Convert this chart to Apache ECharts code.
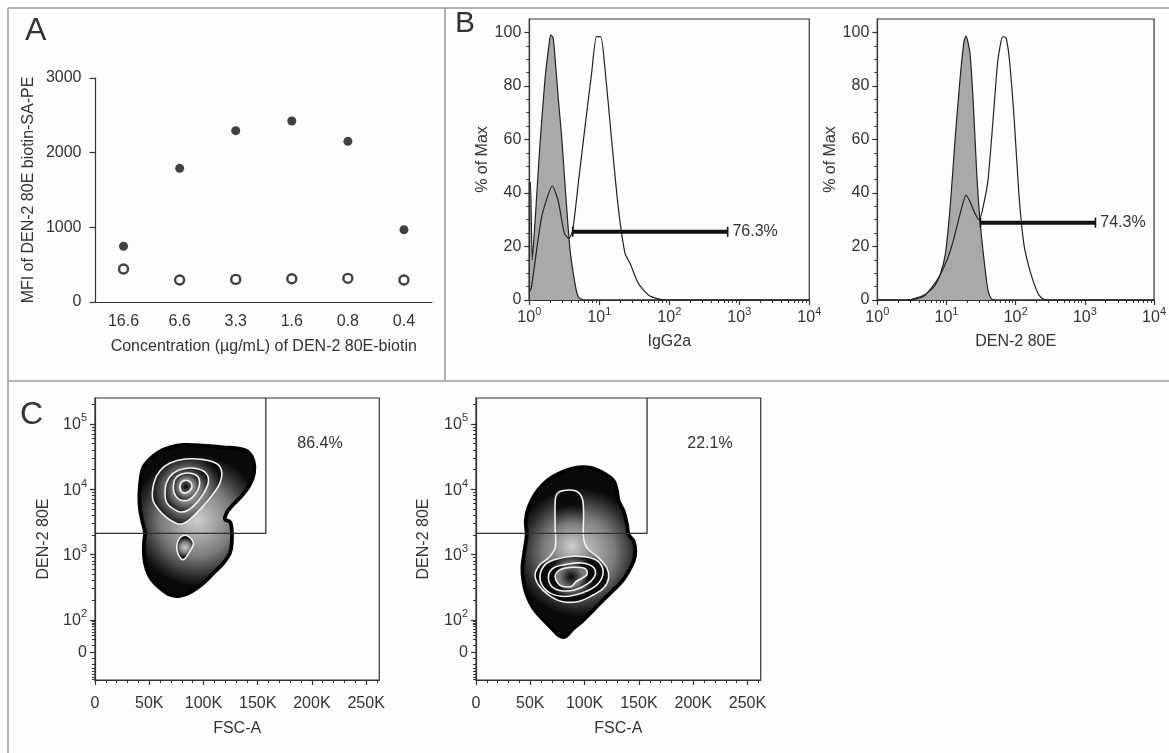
<!DOCTYPE html>
<html>
<head>
<meta charset="utf-8">
<script src="https://cdn.jsdelivr.net/npm/echarts@6/dist/echarts.min.js"></script>
<style>
  html, body { margin: 0; padding: 0; background: #fdfdfd; }
  #chart { width: 1169px; height: 753px; }
</style>
</head>
<body>
<div id="chart"></div>
<script>
// ---- panel A : MFI vs concentration
const concLabels = ['16.6', '6.6', '3.3', '1.6', '0.8', '0.4']
const mfiBiotin = [746, 1790, 2295, 2424, 2152, 968]
const mfiControl = [442, 295, 303, 312, 317, 295]

// ---- panel B : histograms [intensity, % of max]
const igGrey = [[1.0, 0], [1.0, 44], [1.04, 44], [1.10, 15], [1.20, 28], [1.41, 57], [1.67, 82], [1.95, 97], [2.04, 99], [2.19, 98], [2.34, 90], [2.6, 75], [2.9, 61], [3.16, 47], [3.41, 35], [3.81, 19], [4.5, 6], [5.0, 1.2], [5.9, 0], [10000, 0]]
const igOpen = [[1.0, 3], [1.07, 4.5], [1.5, 31], [2.14, 42.6], [2.59, 37], [3.16, 25], [3.69, 23], [4.17, 26], [5.01, 43.6], [6.25, 64.7], [7.76, 84.7], [9.12, 98.4], [10.5, 98.4], [12.0, 87], [15.0, 59.8], [18.6, 34.9], [23.3, 17.4], [27.5, 13.7], [36.1, 6.2], [50.1, 1.9], [69.2, 0.4], [89, 0], [10000, 0]]
const denGrey = [[1, 0], [2.75, 0], [4.76, 1.9], [6.61, 5], [8.22, 10], [9.68, 17.5], [11.4, 36], [13.4, 61], [15.8, 83.4], [18.0, 97], [19.2, 98.6], [21.9, 92], [24.4, 73.5], [27.2, 48.6], [30.4, 30], [35.8, 12.5], [39.8, 3.7], [44.5, 0.4], [50, 0], [10000, 0]]
const denOpen = [[1, 0], [3.0, 0], [4.76, 1.5], [7.35, 7.5], [10.2, 15], [12.6, 22.4], [15.8, 32.4], [19.2, 39.2], [21.9, 36.7], [25.7, 32.4], [29.7, 29.9], [33.9, 34.9], [39.8, 44.8], [47.0, 67], [55.3, 89.7], [65.2, 98.4], [72.4, 98], [81.3, 89.7], [95.5, 67], [112, 38.6], [132, 20.5], [155, 12.5], [184, 6.2], [216, 1.9], [255, 0.3], [316, 0], [10000, 0]]
const igGate = [4.17, 682], igGateLevel = 25.5, igGatePct = '76.3%'
const denGate = [31, 1423], denGateLevel = 28.9, denGatePct = '74.3%'

// ---- panel C : zebra contours [FSC-A (K), DEN-2 80E display decade]
const c1Contours = [
  [[44.6, 4.333], [50.7, 4.461], [58.4, 4.564], [69.2, 4.640], [81.5, 4.676], [99.9, 4.666], [118.4, 4.640], [133.8, 4.615], [141.4, 4.564], [146.1, 4.435], [146.7, 4.256], [143.0, 4.076], [135.3, 3.897], [126.1, 3.743], [121.5, 3.640], [119.9, 3.538], [124.5, 3.497], [126.1, 3.384], [126.1, 3.179], [124.5, 3.025], [118.4, 2.871], [109.2, 2.717], [99.9, 2.564], [89.2, 2.435], [78.4, 2.369], [69.2, 2.384], [60.0, 2.487], [52.3, 2.615], [47.7, 2.769], [45.2, 2.974], [45.2, 3.179], [46.1, 3.333], [44.0, 3.487], [41.5, 3.692], [40.9, 3.897], [42.1, 4.153]],
  [[75.3, 3.128], [78.4, 3.256], [84.6, 3.292], [90.7, 3.179], [87.6, 3.051], [81.5, 2.923], [76.9, 3.0]],
  [[53.2, 3.846], [54.4, 4.102], [60.0, 4.282], [69.2, 4.400], [83.0, 4.461], [99.9, 4.451], [112.9, 4.384], [116.9, 4.256], [114.7, 4.076], [107.6, 3.897], [98.4, 3.717], [89.2, 3.564], [81.5, 3.476], [75.3, 3.476], [66.1, 3.564], [58.4, 3.692]],
  [[64.6, 3.923], [66.1, 4.102], [72.3, 4.246], [83.0, 4.317], [95.3, 4.307], [103.0, 4.230], [104.5, 4.102], [100.6, 3.948], [93.8, 3.794], [86.1, 3.682], [78.4, 3.651], [70.7, 3.717], [66.1, 3.794]],
  [[72.3, 4.0], [73.8, 4.153], [80.0, 4.230], [89.2, 4.240], [95.3, 4.179], [96.2, 4.051], [92.3, 3.923], [86.1, 3.835], [79.0, 3.835], [74.4, 3.897]],
  [[78.4, 4.051], [81.5, 4.128], [87.6, 4.112], [89.2, 4.025], [84.6, 3.948], [80.0, 3.958]]
]
const c2Contours = [
  [[69.8, 4.179], [82.1, 4.282], [94.4, 4.333], [106.7, 4.323], [119.0, 4.230], [126.7, 4.128], [129.8, 3.974], [131.3, 3.820], [135.9, 3.666], [139.0, 3.461], [140.5, 3.307], [145.1, 3.205], [146.7, 3.051], [145.1, 2.897], [140.5, 2.743], [134.4, 2.589], [125.2, 2.435], [115.9, 2.282], [106.7, 2.128], [97.5, 1.974], [89.8, 1.871], [82.1, 1.743], [75.9, 1.769], [69.8, 1.871], [60.6, 2.025], [52.9, 2.179], [46.7, 2.384], [43.7, 2.589], [42.7, 2.794], [44.6, 3.051], [46.7, 3.307], [45.8, 3.512], [48.3, 3.717], [54.4, 3.923], [62.1, 4.076]],
  [[72.9, 3.820], [74.4, 3.923], [79.0, 3.974], [91.3, 3.974], [97.5, 3.871], [99.0, 3.666], [99.0, 3.256], [102.1, 3.102], [112.9, 2.948], [120.5, 2.794], [122.1, 2.640], [117.5, 2.487], [108.2, 2.384], [94.4, 2.282], [79.0, 2.282], [66.7, 2.384], [57.5, 2.538], [54.4, 2.692], [59.0, 2.846], [66.7, 2.948], [72.9, 3.102], [72.9, 3.410]],
  [[59.0, 2.692], [63.7, 2.846], [72.9, 2.923], [91.3, 2.974], [109.8, 2.923], [116.5, 2.794], [115.9, 2.640], [109.8, 2.512], [97.5, 2.410], [82.1, 2.358], [68.3, 2.410], [60.6, 2.538]],
  [[66.7, 2.666], [71.3, 2.794], [82.1, 2.846], [97.5, 2.871], [108.2, 2.805], [109.8, 2.692], [103.6, 2.564], [91.3, 2.461], [79.0, 2.446], [69.8, 2.512]],
  [[72.9, 2.666], [77.5, 2.769], [89.8, 2.805], [100.6, 2.784], [102.1, 2.692], [92.3, 2.589], [87.7, 2.512], [77.5, 2.528]]
]
const gateFscK = 157.5, gateDen = 2100
const c1Pct = '86.4%', c2Pct = '22.1%'
const fscRange = [0, 262.144]
const denRange = [1.081, 5.394]   // display decades, bottom..top
const zeroDecade = 1.512          // where "0" sits on the biex scale

const fam = "'Liberation Sans', Arial, sans-serif"
const txt = '#333'
const axisCol = '#333'

const sup = n => '{b|10}{s|' + n + '}'
const supRich = {
  b: { fontSize: 16, fontFamily: fam, color: txt, lineHeight: 18, verticalAlign: 'bottom' },
  s: { fontSize: 11, fontFamily: fam, color: txt, lineHeight: 11, verticalAlign: 'bottom', padding: [0, 0, 9, 0] }
}
const nameStyle = { fontFamily: fam, fontSize: 16, color: txt }
const labelStyle = { fontFamily: fam, fontSize: 16, color: txt }

// minor tick positions
const logMinor = []
for (let d = 0; d < 4; d++) for (let k = 2; k <= 9; k++) logMinor.push(Math.log10(k * Math.pow(10, d)))
const pctMinor = []
for (let v = 5; v < 105; v += 5) if (v % 20) pctMinor.push(v)
const fscMinor = []
for (let v = 10; v < 262; v += 10) if (v % 50) fscMinor.push(v)
const biexLin = v => zeroDecade + (2 - zeroDecade) * Math.asinh(v / 20) / Math.asinh(5)
const denMinor = []
for (let v = -70; v <= 90; v += 10) if (v) denMinor.push(biexLin(v))
for (let d = 2; d < 6; d++) for (let k = 2; k <= 9; k++) {
  const t = Math.log10(k * Math.pow(10, d))
  if (t < denRange[1]) denMinor.push(t)
}

const minorAxis = (dim, grid, range, vals) => ({
  type: 'value', gridIndex: grid, position: dim === 'x' ? 'bottom' : 'left',
  min: range[0], max: range[1],
  axisLine: { show: false }, axisLabel: { show: false }, splitLine: { show: false },
  axisTick: { show: true, length: 3, customValues: vals, lineStyle: { color: axisCol } }
})

const logX = (grid, name) => ({
  type: 'value', gridIndex: grid, position: 'bottom', min: 0, max: 4, interval: 1,
  axisLine: { show: true, lineStyle: { color: axisCol, width: 1.2 } },
  axisTick: { length: 5, lineStyle: { color: axisCol, width: 1.2 } },
  splitLine: { show: false },
  axisLabel: { margin: 8, formatter: v => sup(v), rich: supRich },
  name, nameLocation: 'middle', nameGap: 34, nameTextStyle: nameStyle
})
const pctY = grid => ({
  type: 'value', gridIndex: grid, position: 'left', min: 0, max: 105,
  axisLine: { show: true, lineStyle: { color: axisCol, width: 1.2 } },
  axisTick: { length: 5, customValues: [0, 20, 40, 60, 80, 100], lineStyle: { color: axisCol, width: 1.2 } },
  splitLine: { show: false },
  axisLabel: { margin: 8, customValues: [0, 20, 40, 60, 80, 100], ...labelStyle },
  name: '% of Max', nameLocation: 'middle', nameGap: 36, nameTextStyle: nameStyle
})
const fscX = grid => ({
  type: 'value', gridIndex: grid, position: 'bottom', min: fscRange[0], max: fscRange[1],
  axisLine: { show: true, lineStyle: { color: axisCol, width: 1.2 } },
  axisTick: { length: 5, customValues: [0, 50, 100, 150, 200, 250], lineStyle: { color: axisCol, width: 1.2 } },
  splitLine: { show: false },
  axisLabel: { margin: 16, customValues: [0, 50, 100, 150, 200, 250], formatter: v => v === 0 ? '0' : v + 'K', ...labelStyle },
  name: 'FSC-A', nameLocation: 'middle', nameGap: 41, nameTextStyle: nameStyle
})
const denMajor = [zeroDecade, 2, 3, 4, 5]
const denY = (grid, gap) => ({
  type: 'value', gridIndex: grid, position: 'left', min: denRange[0], max: denRange[1],
  axisLine: { show: true, lineStyle: { color: axisCol, width: 1.2 } },
  axisTick: { length: 5, customValues: denMajor, lineStyle: { color: axisCol, width: 1.2 } },
  splitLine: { show: false },
  axisLabel: {
    margin: 8, customValues: denMajor, rich: supRich,
    formatter: v => Math.abs(v - zeroDecade) < 1e-6 ? '{b|0}' : sup(Math.round(v))
  },
  name: 'DEN-2 80E', nameLocation: 'middle', nameGap: gap, nameTextStyle: nameStyle
})

const toLog = arr => arr.map(p => [Math.log10(p[0]), p[1]])

const histSeries = (xi, grey, open, gate, level, pct) => [
  {
    type: 'line', xAxisIndex: xi, yAxisIndex: xi, data: toLog(grey), showSymbol: false, z: 2,
    smooth: 0.2, lineStyle: { color: '#222', width: 1.2 }, areaStyle: { color: '#a9a9a9', opacity: 1 }
  },
  {
    type: 'line', xAxisIndex: xi, yAxisIndex: xi, data: toLog(open), showSymbol: false, z: 3,
    smooth: 0.2, lineStyle: { color: '#222', width: 1.2 }
  },
  {
    type: 'line', xAxisIndex: xi, yAxisIndex: xi, z: 4,
    symbol: 'rect', symbolSize: [1.6, 10], itemStyle: { color: '#111' },
    lineStyle: { color: '#111', width: 4 },
    data: [
      [Math.log10(gate[0]), level],
      { value: [Math.log10(gate[1]), level], label: { show: true, position: 'right', distance: 4, formatter: pct, ...labelStyle } }
    ]
  }
]

// zebra look: each level light in the middle, dark toward its own edge
const contourSeries = (xi, polys) => polys.map((poly, k) => {
  const outer = k === 0, inner = k === polys.length - 1
  const fill = {
    type: 'radial', x: 0.5, y: 0.5, r: 0.55,
    colorStops: inner
      ? [{ offset: 0, color: '#050505' }, { offset: 1, color: '#7a7a7a' }]
      : [{ offset: 0, color: '#cfcfcf' }, { offset: 0.55, color: '#7c7c7c' }, { offset: 0.85, color: '#2c2c2c' }, { offset: 1, color: '#0a0a0a' }]
  }
  return {
    type: 'custom', xAxisIndex: xi, yAxisIndex: xi, z: 2 + k,
    data: [[poly[0][0], poly[0][1]]],
    renderItem: (params, api) => ({
      type: 'polygon',
      shape: { points: poly.map(p => api.coord(p)), smooth: 0.35 },
      style: { fill, stroke: outer ? '#000' : '#f0f0f0', lineWidth: outer ? 3.8 : 1.6 }
    })
  }
})

const gateSeries = xi => ({
  type: 'line', xAxisIndex: xi, yAxisIndex: xi, z: 20, showSymbol: false, symbol: 'none',
  lineStyle: { color: '#333', width: 1.3 },
  data: [[0, Math.log10(gateDen)], [gateFscK, Math.log10(gateDen)], [gateFscK, denRange[1]]]
})

const frame = { show: true, borderColor: '#333', borderWidth: 1.2, backgroundColor: 'transparent' }

const chart = echarts.init(document.getElementById('chart'))
chart.setOption({
  backgroundColor: '#fdfdfd',
  animation: false,
  textStyle: { fontFamily: fam },
  grid: [
    { left: 95.5, top: 78, width: 336.5, height: 224 },
    { left: 529.3, top: 19, width: 280, height: 281, ...frame },
    { left: 877.3, top: 19, width: 281.7, height: 281, ...frame },
    { left: 95, top: 398, width: 284.3, height: 282, ...frame },
    { left: 476, top: 398, width: 284.7, height: 282, ...frame }
  ],
  xAxis: [
    {
      type: 'category', gridIndex: 0, data: concLabels, boundaryGap: true,
      axisLine: { show: true, lineStyle: { color: axisCol, width: 1.2 } },
      axisTick: { alignWithLabel: true, length: 6, lineStyle: { color: axisCol, width: 1.2 } },
      axisLabel: { margin: 12, ...labelStyle },
      name: 'Concentration (µg/mL) of DEN-2 80E-biotin', nameLocation: 'middle', nameGap: 37, nameTextStyle: nameStyle
    },
    logX(1, 'IgG2a'), minorAxis('x', 1, [0, 4], logMinor),
    logX(2, 'DEN-2 80E'), minorAxis('x', 2, [0, 4], logMinor),
    fscX(3), minorAxis('x', 3, fscRange, fscMinor),
    fscX(4), minorAxis('x', 4, fscRange, fscMinor)
  ],
  yAxis: [
    {
      type: 'value', gridIndex: 0, min: 0, max: 3000, interval: 1000,
      axisLine: { show: true, lineStyle: { color: axisCol, width: 1.2 } },
      axisTick: { show: true, length: 6, lineStyle: { color: axisCol, width: 1.2 } },
      splitLine: { show: false },
      axisLabel: { margin: 14, formatter: v => String(v), ...labelStyle },
      name: 'MFI of DEN-2 80E biotin-SA-PE', nameLocation: 'middle', nameGap: 59, nameTextStyle: nameStyle
    },
    pctY(1), minorAxis('y', 1, [0, 105], pctMinor),
    pctY(2), minorAxis('y', 2, [0, 105], pctMinor),
    denY(3, 43), minorAxis('y', 3, denRange, denMinor),
    denY(4, 44), minorAxis('y', 4, denRange, denMinor)
  ],
  series: [
    { type: 'scatter', xAxisIndex: 0, yAxisIndex: 0, data: mfiBiotin, symbolSize: 9, itemStyle: { color: '#111' } },
    { type: 'scatter', xAxisIndex: 0, yAxisIndex: 0, data: mfiControl, symbolSize: 9, itemStyle: { color: '#fdfdfd', borderColor: '#111', borderWidth: 2.4 } },
    ...histSeries(1, igGrey, igOpen, igGate, igGateLevel, igGatePct),
    ...histSeries(3, denGrey, denOpen, denGate, denGateLevel, denGatePct),
    ...contourSeries(5, c1Contours), gateSeries(5),
    ...contourSeries(7, c2Contours), gateSeries(7)
  ],
  graphic: [
    { type: 'line', shape: { x1: 8, y1: 8, x2: 1169, y2: 8 }, style: { stroke: '#9a9a9a', lineWidth: 1.5 } },
    { type: 'line', shape: { x1: 8, y1: 8, x2: 8, y2: 753 }, style: { stroke: '#9a9a9a', lineWidth: 1.5 } },
    { type: 'line', shape: { x1: 445, y1: 8, x2: 445, y2: 381 }, style: { stroke: '#9a9a9a', lineWidth: 1.5 } },
    { type: 'line', shape: { x1: 8, y1: 381, x2: 1169, y2: 381 }, style: { stroke: '#9a9a9a', lineWidth: 1.5 } },
    { type: 'text', x: 25, y: 31, style: { text: 'A', font: '32px ' + fam, fill: txt, verticalAlign: 'middle' } },
    { type: 'text', x: 455, y: 24, style: { text: 'B', font: '30px ' + fam, fill: txt, verticalAlign: 'middle' } },
    { type: 'text', x: 20, y: 415, style: { text: 'C', font: '32px ' + fam, fill: txt, verticalAlign: 'middle' } },
    { type: 'text', x: 320, y: 444, style: { text: c1Pct, font: '16px ' + fam, fill: txt, align: 'center', verticalAlign: 'middle' } },
    { type: 'text', x: 710, y: 444, style: { text: c2Pct, font: '16px ' + fam, fill: txt, align: 'center', verticalAlign: 'middle' } }
  ]
})
</script>
</body>
</html>
